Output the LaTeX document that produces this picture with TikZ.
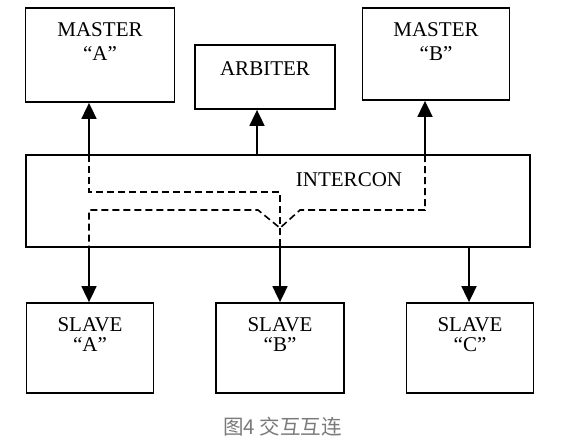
\documentclass[tikz,border=0pt]{standalone}
\usepackage{fontspec}
\setmainfont{Liberation Serif}
\newfontfamily\cjkfont{Noto Sans CJK SC}
\usetikzlibrary{arrows.meta,positioning}
\definecolor{capgray}{HTML}{7A7A7A}

\begin{document}
\begin{tikzpicture}[
    x=1pt, y=-1pt,
    unit/.style={rectangle, draw, line width=1.8pt, inner sep=0pt},
    tag/.style={align=center, font=\fontsize{21}{20}\selectfont, inner sep=0pt},
    mtag/.style={tag, font=\fontsize{21}{24}\selectfont},
    link/.style={line width=1.8pt, -{Triangle[width=15pt,length=16pt]}},
    route/.style={line width=1.6pt, dash pattern=on 7pt off 4pt}
  ]

  % ---- Frame ----
  \useasboundingbox (0,0) rectangle (561,445);

  % ---- Masters and arbiter ----
  \node[unit, minimum width=149pt, minimum height=94pt] (MA) at (100,55) {};
  \node[mtag, below=15pt of MA.north] (MAtxt) {MASTER\\``A''};

  \node[unit, minimum width=140pt, minimum height=64pt] (ARB) at (265,77) {};
  \node[tag, below=17pt of ARB.north] (ARBtxt) {ARBITER};

  \node[unit, minimum width=147pt, minimum height=92pt] (MB) at (436,54) {};
  \node[mtag, below=15pt of MB.north] (MBtxt) {MASTER\\``B''};

  % ---- Interconnect ----
  \node[unit, minimum width=504pt, minimum height=92pt] (IC) at (278,201) {};
  \node[tag, anchor=north] (ICtxt) at (349,172) {INTERCON};

  % ---- Slaves ----
  \node[unit, minimum width=127pt, minimum height=90pt] (SA) at (90,348) {};
  \node[tag, below=15pt of SA.north] (SAtxt) {SLAVE\\``A''};

  \node[unit, minimum width=128pt, minimum height=90pt] (SB) at (280,348) {};
  \node[tag, below=15pt of SB.north] (SBtxt) {SLAVE\\``B''};

  \node[unit, minimum width=127pt, minimum height=90pt] (SC) at (470,348) {};
  \node[tag, below=15pt of SC.north] (SCtxt) {SLAVE\\``C''};

  % ---- Ports on the interconnect ----
  \coordinate (tA) at (89,155);
  \coordinate (tR) at (257,155);
  \coordinate (tB) at (425,155);
  \coordinate (bA) at (89,247);
  \coordinate (bB) at (280,247);
  \coordinate (bC) at (469,247);

  % ---- Connectors ----
  \draw[link] (tA) -- (tA |- MA.south);
  \draw[link] (tR) -- (tR |- ARB.south);
  \draw[link] (tB) -- (tB |- MB.south);
  \draw[link] (bA) -- (bA |- SA.north);
  \draw[link] (bB) -- (bB |- SB.north);
  \draw[link] (bC) -- (bC |- SC.north);

  % ---- Routes through the interconnect ----
  \draw[route] (tA) -- ++(0,37) -| (bB);
  \draw[route] (tB) -- ++(0,55) -- ++(-125,0) -- ++(-20,18) -- ++(-22,-18) -| (bA);

  % ---- Caption ----
  \node[font=\cjkfont\fontsize{20.5}{22}\selectfont, text=capgray] (cap) at (282.5,427) {图4 交互互连};

\end{tikzpicture}
\end{document}
